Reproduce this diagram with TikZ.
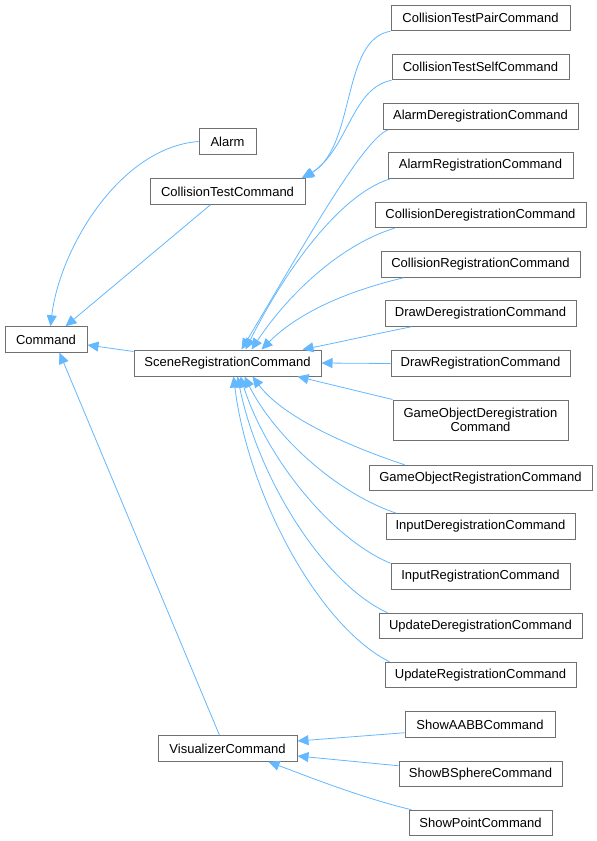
\documentclass[tikz,border=0pt]{standalone}
\usepackage{fontspec}
\setmainfont{Liberation Sans}
\usetikzlibrary{arrows.meta}
\definecolor{edgeblue}{HTML}{63B8FF}
\definecolor{boxgray}{HTML}{707070}
\begin{document}
\begin{tikzpicture}[x=1pt,y=-1pt,
  box/.style={draw=boxgray,line width=1pt,fill=white,rectangle,minimum height=25.5pt,inner sep=1pt,font=\fontsize{13}{14.5}\selectfont,align=center},
  edge/.style={draw=edgeblue,line width=0.8pt,-{Triangle[length=11pt,width=10pt,fill=edgeblue]}}]
\useasboundingbox (0,0) rectangle (597,841);
\fill[white] (0,0) rectangle (597,841);
% nodes
\node[box,minimum width=82pt] (cmd) at (46,339.5) {Command};
\node[box,minimum width=57pt] (alarm) at (227.5,141.5) {Alarm};
\node[box,minimum width=155pt] (ctc) at (227.5,191.5) {CollisionTestCommand};
\node[box,minimum width=187pt,minimum height=26pt] (src) at (227.5,363) {SceneRegistrationCommand};
\node[box,minimum width=139pt] (vc) at (227.5,748.5) {VisualizerCommand};
\node[box,minimum width=179pt] (ctp) at (480.5,18) {CollisionTestPairCommand};
\node[box,minimum width=177pt] (cts) at (480.5,67) {CollisionTestSelfCommand};
\node[box,minimum width=195pt] (ald) at (480.5,116.5) {AlarmDeregistrationCommand};
\node[box,minimum width=185pt] (alr) at (480.5,165.5) {AlarmRegistrationCommand};
\node[box,minimum width=211pt] (cold) at (480.5,215) {CollisionDeregistrationCommand};
\node[box,minimum width=199pt] (colr) at (480.5,264.5) {CollisionRegistrationCommand};
\node[box,minimum width=191pt] (drd) at (480.5,313.5) {DrawDeregistrationCommand};
\node[box,minimum width=179pt] (drr) at (480.5,363.5) {DrawRegistrationCommand};
\node[box,minimum width=175pt,minimum height=40pt,font=\fontsize{13}{13.5}\selectfont] (god) at (480.5,420) {GameObjectDeregistration\\Command};
\node[box,minimum width=223pt] (gor) at (480.5,478) {GameObjectRegistrationCommand};
\node[box,minimum width=189pt] (ind) at (480.5,526.5) {InputDeregistrationCommand};
\node[box,minimum width=179pt] (inr) at (480.5,576.5) {InputRegistrationCommand};
\node[box,minimum width=203pt] (upd) at (480.5,626) {UpdateDeregistrationCommand};
\node[box,minimum width=191pt] (upr) at (480.5,675) {UpdateRegistrationCommand};
\node[box,minimum width=150pt] (sab) at (480,724.5) {ShowAABBCommand};
\node[box,minimum width=163pt] (sbs) at (480.5,774) {ShowBSphereCommand};
\node[box,minimum width=143pt] (spt) at (480.5,823) {ShowPointCommand};
% edges to Command
\draw[edge] (alarm.west) .. controls +(-79,6) and +(9,-77) .. ([xshift=46pt]cmd.north west);
\draw[edge] ([xshift=61pt]ctc.south west) -- ([xshift=61pt]cmd.north west);
\draw[edge] ([yshift=-2pt]src.north west) -- ([yshift=-5.5pt]cmd.east);
\draw[edge] ([xshift=62pt]vc.north west) -- ([xshift=55pt]cmd.south west);
% edges to CollisionTestCommand
\draw[edge] (ctp.south west) .. controls +(-50,8) and +(55,-30) .. ([xshift=-4pt]ctc.north east);
\draw[edge] (cts.south west) .. controls +(-40,8) and +(45,-30) .. ([xshift=-2pt]ctc.north east);
% edges to SceneRegistrationCommand (top)
\draw[edge] ([xshift=6pt]ald.south west) .. controls +(-25,8) and +(60,-100) .. ([xshift=108pt]src.north west);
\draw[edge] ([xshift=3pt]alr.south west) .. controls +(-50,15) and +(40,-80) .. ([xshift=112pt]src.north west);
\draw[edge] ([xshift=20pt]cold.south west) .. controls +(-50,15) and +(40,-60) .. ([xshift=118pt]src.north west);
\draw[edge] ([xshift=23pt]colr.south west) .. controls +(-50,12) and +(40,-40) .. ([xshift=128pt]src.north west);
\draw[edge] ([xshift=27pt]drd.south west) .. controls +(-40,8) and +(40,-8) .. ([xshift=169pt]src.north west);
\draw[edge] (drr.west) -- (src.east);
% edges to SceneRegistrationCommand (bottom)
\draw[edge] (god.north west) -- ([xshift=164pt]src.south west);
\draw[edge] ([xshift=36pt]gor.north west) .. controls +(-60,-20) and +(30,40) .. ([xshift=119pt]src.south west);
\draw[edge] ([xshift=11pt]ind.north west) .. controls +(-60,-20) and +(30,60) .. ([xshift=111pt]src.south west);
\draw[edge] (inr.north west) .. controls +(-60,-25) and +(25,80) .. ([xshift=107pt]src.south west);
\draw[edge] ([xshift=9pt]upd.north west) .. controls +(-65,-30) and +(20,100) .. ([xshift=104pt]src.south west);
\draw[edge] ([xshift=5pt]upr.north west) .. controls +(-70,-35) and +(15,120) .. ([xshift=100pt]src.south west);
% edges to VisualizerCommand
\draw[edge] ([yshift=5pt]sab.south west) -- ([yshift=7.5pt]vc.east);
\draw[edge] ([yshift=-5pt]sbs.north west) -- ([yshift=-7.5pt]vc.east);
\draw[edge] ([xshift=3pt]spt.north west) .. controls +(-50,-12) and +(40,15) .. ([xshift=-29pt]vc.south east);
\end{tikzpicture}
\end{document}
